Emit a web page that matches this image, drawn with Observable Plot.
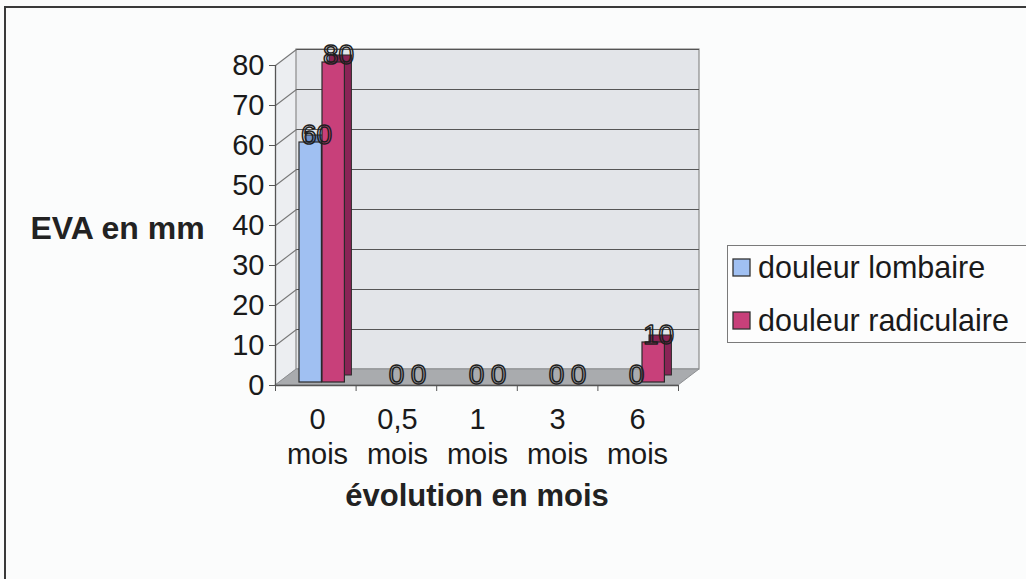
<!DOCTYPE html>
<html><head><meta charset="utf-8">
<script src="https://cdn.jsdelivr.net/npm/d3@7"></script>
<script src="https://cdn.jsdelivr.net/npm/@observablehq/plot@0.6"></script>
<style>
body{margin:0;background:#fbfcfc;font-family:"Liberation Sans",Arial,sans-serif;}
#wrap{position:relative;width:1026px;height:579px;overflow:hidden;background:#fbfcfc;}
#border{position:absolute;left:4px;top:6px;width:1100px;height:700px;border-left:2px solid #3a3a3a;border-top:2px solid #3a3a3a;}
.layer{position:absolute;left:0;top:0;}
#legendbox{position:absolute;left:727px;top:245px;width:330px;height:96px;border:1.5px solid #7a7a7a;background:#fdfdfd;}
#legend{position:absolute;left:733px;top:241px;}
#legend, #legend *{font-family:"Liberation Sans",Arial,sans-serif;font-size:30.5px;color:#1a1a1a;}
.lg-swatches{margin:0 !important;min-height:0 !important;}
.lg-swatch{line-height:53px;height:53px;padding:0 !important;display:flex;align-items:center;}
#legend svg{margin-right:8px !important;}
#legend svg rect{stroke:#333;stroke-width:1.3px;}
</style></head><body>
<div id="wrap"><div id="border"></div><div id="l1" class="layer"></div><div id="l2" class="layer"></div><div id="legendbox"></div><div id="legend"></div></div>
<script>
// ---- data ----
const months = ["0 mois","0,5 mois","1 mois","3 mois","6 mois"];
const monthLabels = ["0\nmois","0,5\nmois","1\nmois","3\nmois","6\nmois"];
const series = ["douleur lombaire","douleur radiculaire"];
const lombaire = [60,0,0,0,0];
const radiculaire = [80,0,0,0,10];
const yTicks = [0,10,20,30,40,50,60,70,80];
const yTitle = "EVA en mm";
const xTitle = "évolution en mois";

// ---- styles / layout ----
const colors = ["#a0c0f2","#c8407a"];
const sideColors = ["#6f8fc8","#8a2456"];
const W = 1026, H = 579, mL = 275, mR = 348, mT = 65, mB = 194;
const FONT = "Liberation Sans, Arial, sans-serif";
const bw = (W - mL - mR) / months.length;
const DX = 21, DY = 16;                      // 3D depth in px
const dxU = DX / bw;                          // depth in category units
const dyU = DY / ((H - mT - mB) / 80);        // depth in value units
const nCat = months.length;

// ---- layer 1 : 3D walls, floor, axes ----
const leftWall = [{x:0,y1:0,y2:80},{x:dxU,y1:dyU,y2:80+dyU}];
const floor = [{x:0,y1:0,y2:0},{x:dxU,y1:0,y2:dyU},{x:nCat,y1:0,y2:dyU},{x:nCat+dxU,y1:dyU,y2:dyU}];
const back = [{x1:dxU,x2:nCat+dxU,y1:dyU,y2:80+dyU}];

const p1 = Plot.plot({
  width: W, height: H, marginLeft: mL, marginRight: mR, marginTop: mT, marginBottom: mB,
  style: {background:"transparent", overflow:"visible", fontFamily: FONT},
  x: {type:"linear", domain:[0, nCat]},
  y: {domain:[0,80]},
  marks: [
    Plot.areaY(leftWall, {x:"x", y1:"y1", y2:"y2", fill:"#eceef1"}),
    Plot.rect(back, {x1:"x1", x2:"x2", y1:"y1", y2:"y2", fill:"#e3e5e9", stroke:"#8a8a8a", strokeWidth:1.2}),
    Plot.ruleY(yTicks.filter(v => v > 0), {y: v => v + dyU, x1: dxU, x2: nCat + dxU, stroke:"#555", strokeWidth:1.2}),
    Plot.link(yTicks, {x1: 0, y1: v => v, x2: dxU, y2: v => v + dyU, stroke:"#777", strokeWidth:1.1}),
    Plot.areaY(floor, {x:"x", y1:"y1", y2:"y2", fill:"#a9abae", stroke:"#8d8f92", strokeWidth:1}),
    Plot.ruleX([0], {y1:0, y2:80, stroke:"#555", strokeWidth:1.3}),
    Plot.ruleY([0], {x1:0, x2:nCat, stroke:"#555", strokeWidth:1.3}),
    Plot.axisY(yTicks, {tickSize:6, tickPadding:5, fontSize:29, label:null, stroke:"#555", fill:"#1a1a1a"}),
    Plot.axisX(d3.range(nCat + 1), {tickSize:6, tickFormat: () => "", label:null, stroke:"#555"})
  ]
});
document.getElementById("l1").appendChild(p1);

// ---- layer 2 : bars, labels, titles ----
const rows = months.flatMap((m, i) => [
  {month:m, s:0, value:lombaire[i]},
  {month:m, s:1, value:radiculaire[i]}
]);
const barGeom = [{l:22, r:45}, {l:45, r:68}];
const barMarks = [0, 1].flatMap(s => {
  const data = rows.filter(d => d.s === s);
  const ins = {insetLeft: barGeom[s].l, insetRight: bw - barGeom[s].r};
  return [
    Plot.barY(data, {x:"month", y:"value", ...ins, dx:7, dy:-10, fill:sideColors[s], stroke:"#2a2a2a", strokeWidth:1}),
    Plot.barY(data, {x:"month", y:"value", ...ins, dx:0, dy:-3, fill:colors[s], stroke:"#2a2a2a", strokeWidth:1.2})
  ];
});
const labelDx = [-1, 21];
const labelMarks = [0, 1].map(s => Plot.text(rows.filter(d => d.s === s), {
  x:"month", y:"value", text: d => String(d.value), dx: labelDx[s], dy: -10,
  fontSize: 28, fill: "none", stroke: "#1e1e1e", strokeWidth: 1.5, lineAnchor: "middle"
}));

const p2 = Plot.plot({
  width: W, height: H, marginLeft: mL, marginRight: mR, marginTop: mT, marginBottom: mB,
  style: {background:"transparent", overflow:"visible", fontFamily: FONT},
  x: {type:"band", domain: months, padding: 0},
  y: {domain:[0,80], axis:null},
  marks: [
    ...barMarks,
    ...labelMarks,
    Plot.axisX({tickSize:0, tickPadding:19, fontSize:29, lineHeight:1.2, label:null, fill:"#1a1a1a",
      tickFormat: d => monthLabels[months.indexOf(d)]}),
    Plot.text([yTitle], {frameAnchor:"left", dx:-158, dy:3, textAnchor:"middle", fontSize:32, fontWeight:"bold", fill:"#222"}),
    Plot.text([xTitle], {frameAnchor:"bottom", dy:111, textAnchor:"middle", lineAnchor:"middle", fontSize:31, fontWeight:"bold", fill:"#222"})
  ]
});
document.getElementById("l2").appendChild(p2);

// ---- legend ----
const lg = Plot.legend({
  color: {domain: series, range: colors},
  legend: "swatches", columns: 1, swatchSize: 17, className: "lg",
  style: {fontSize: "30px", fontFamily: FONT, color: "#1a1a1a"}
});
document.getElementById("legend").appendChild(lg);
</script>
</body></html>
